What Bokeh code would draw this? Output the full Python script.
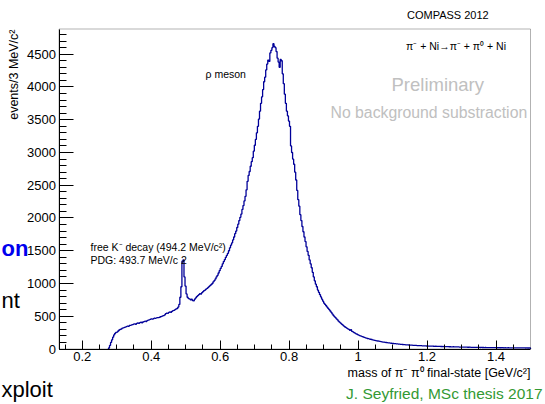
import numpy as np
from bokeh.plotting import figure
from bokeh.models import (Label, Range1d, SingleIntervalTicker, CustomJSTickFormatter,
                          BoxAnnotation)
from bokeh.embed import file_html
from bokeh.resources import INLINE

# ---------------- data (3 MeV bins) ----------------
bin_start = 0.276
bin_width = 0.003

counts_threshold = [15, 55, 100, 140, 180, 215, 240, 255]
counts_low = [258, 275, 290, 300, 305, 318, 322, 330, 335, 342,
              350, 345, 360, 362, 368, 372, 380, 385, 378, 392,
              398, 390, 402, 410, 400, 412, 418, 425, 420, 432,
              440, 445, 452, 460, 455, 462, 470, 468, 475, 480,
              478, 485, 492, 498, 505, 510, 520, 540, 548, 545,
              558, 565, 560, 575, 585, 590, 600, 612, 618, 640]
counts_kaon = [680, 790, 950, 1340, 1360, 1100, 960, 840, 790, 770,
               765, 750, 760, 740, 735, 760, 780]
counts_rise = [800, 815, 830, 845, 838, 860, 875, 890, 900, 915,
               925, 940, 955, 970, 985, 1000, 1025, 1045, 1070, 1100,
               1125, 1160, 1195, 1230]
counts_rho_rise = [1260, 1300, 1335, 1365, 1400, 1430, 1460, 1500, 1545, 1585,
                   1620, 1665, 1710, 1760, 1800, 1855, 1905, 1960, 2010, 2060,
                   2130, 2190, 2260, 2330, 2430, 2560, 2650, 2710, 2790, 2860,
                   2920, 3020, 3110, 3200, 3300, 3400, 3510, 3630, 3750, 3850,
                   3960, 4080, 4150, 4260, 4350, 4410, 4390, 4520, 4560, 4600]
counts_rho_fall = [4660, 4620, 4600, 4540, 4440, 4380, 4300, 4420, 4400, 4200,
                   4050, 3890, 3750, 3630, 3560, 3480, 3400, 3100, 3000, 2900,
                   2820, 2700, 2580, 2420, 2280, 2180, 2050, 1960, 1870, 1790,
                   1710, 1640, 1560, 1490, 1430, 1360, 1300, 1240, 1170, 1100,
                   1040, 990, 950, 900, 865, 830, 795, 760, 730, 700]
counts_tail_near = [680, 660, 640, 620, 600, 580, 560, 535, 515, 495,
                    480, 460, 445, 425, 410, 395, 380, 368, 352, 340,
                    330, 318, 308, 300, 285, 295, 270, 262, 250, 242,
                    232, 225, 215]
counts_tail_far = [208, 200, 196, 188, 183, 178, 170, 166, 160, 158,
                   152, 149, 145, 140, 137, 132, 129, 125, 122, 119,
                   115, 113, 110, 106, 105, 101, 99, 96, 94, 92,
                   90, 88, 87, 84, 82, 81, 78, 77, 75, 74,
                   72, 71, 69, 67, 67, 64, 63, 62, 61, 60,
                   58, 58, 56, 56, 55, 54, 53, 53, 51, 50,
                   50, 49, 48, 48, 47, 46, 47, 45, 45, 44,
                   43, 43, 42, 41, 42, 40, 40, 39, 39, 38,
                   38, 37, 38, 36, 36, 35, 36, 34, 34, 33,
                   33, 34, 32, 32, 31, 32, 31, 30, 30, 30,
                   29, 30, 28, 28, 29, 27, 27, 28, 26, 26,
                   26, 25, 26, 25, 24, 25, 24, 23, 24, 23,
                   23, 22, 23, 22, 22, 21, 22, 21, 21, 20,
                   20, 21, 20, 20, 19, 20, 19, 19, 20, 19,
                   18, 19, 18, 18, 19, 18, 17, 18, 17, 17,
                   17, 18, 17, 16, 17, 16, 16, 17, 16, 16,
                   16, 15, 16, 15, 15, 16]

x_axis_limits = (0.1325, 1.5)
y_axis_limits = (0.0, 4885.0)
x_ticks_interval = 0.2
y_ticks_interval = 500

# ---------------- build step outline ----------------
counts = np.array(counts_threshold + counts_low + counts_kaon + counts_rise +
                  counts_rho_rise + counts_rho_fall + counts_tail_near +
                  counts_tail_far, dtype=float)
edges = bin_start + bin_width * np.arange(len(counts) + 1)
xs = np.repeat(edges, 2)
ys = np.concatenate([[0.0], np.repeat(counts, 2), [0.0]])

# ---------------- geometry: the drawing box inside the full canvas ----------------
W, H = 545, 404
FL, FR, FT, FB = 58.5, 530.0, 28.5, 348.5   # pixel edges of the histogram box
X0, X1 = x_axis_limits
Y0, Y1 = y_axis_limits
sx = (FR - FL) / (X1 - X0)
sy = (FB - FT) / (Y1 - Y0)
xr = Range1d(X0 - FL / sx, X1 + (W - FR) / sx)
yr = Range1d(Y0 - (H - FB) / sy, Y1 + FT / sy)

p = figure(width=W, height=H, x_range=xr, y_range=yr,
           output_backend="svg", toolbar_location=None,
           min_border_left=0, min_border_right=0, min_border_top=0,
           min_border_bottom=0)
p.title.visible = False
p.background_fill_color = "white"
p.border_fill_color = "white"
p.outline_line_color = None
p.xgrid.visible = False
p.ygrid.visible = False

# box (top and right borders of the ROOT frame)
p.add_layout(BoxAnnotation(left=X0, right=X1, bottom=Y0, top=Y1,
                           fill_alpha=0, line_color="black", line_width=1))

p.line(xs, ys, line_color="#000099", line_width=1.3)

FONT = "Liberation Sans"

xa = p.xaxis[0]
xa.fixed_location = Y0
xa.bounds = (X0, X1)
xa.ticker = SingleIntervalTicker(interval=x_ticks_interval, num_minor_ticks=4)
xa.formatter = CustomJSTickFormatter(code="return String(Math.round(tick*10)/10);")
xa.major_tick_in = 9
xa.major_tick_out = 0
xa.minor_tick_in = 5
xa.minor_tick_out = 0
xa.major_label_standoff = 3
xa.major_label_text_font = FONT
xa.major_label_text_font_size = "13px"
xa.major_label_text_color = "black"
xa.axis_line_color = "black"

ya = p.yaxis[0]
ya.fixed_location = X0
ya.bounds = (Y0, Y1)
ya.ticker = SingleIntervalTicker(interval=y_ticks_interval, num_minor_ticks=5)
ya.major_tick_in = 14
ya.major_tick_out = 0
ya.minor_tick_in = 7
ya.minor_tick_out = 0
ya.major_label_standoff = 3
ya.major_label_text_font = FONT
ya.major_label_text_font_size = "13px"
ya.major_label_text_color = "black"
ya.axis_line_color = "black"


def add_text(text, cx, cy, size, color="black", align="left", bold=False, angle=0.0):
    p.add_layout(Label(x=cx, y=cy, x_units="canvas", y_units="canvas",
                       text=text, text_font=FONT,
                       text_font_size=f"{size}px", text_color=color,
                       text_align=align, text_baseline="middle",
                       text_font_style="bold" if bold else "normal",
                       angle=angle))


add_text("COMPASS 2012", 406.5, 14, 11)
add_text("\u03c0\u207b + Ni\u2192\u03c0\u207b + \u03c0\u2070 + Ni", 405.5, 45, 10.5)
add_text("Preliminary", 391, 84, 18.5, color="#c0c0c0")
add_text("No background substraction", 330, 112, 15.8, color="#c0c0c0")
add_text("\u03c1 meson", 205, 73, 10.5)
add_text("free K\u207b decay (494.2 MeV/c\u00b2)", 90, 246.5, 10.5)
add_text("PDG: 493.7 MeV/c 2", 90, 259, 10.5)
add_text("mass of \u03c0\u207b \u03c0\u2070 final-state [GeV/c\u00b2]", 530, 372, 12.5, align="right")
add_text("J. Seyfried, MSc thesis 2017", 542, 393, 15.5, color="#339933", align="right")
add_text("events/3 MeV/c\u00b2", 13.5, 29, 12.5, align="right", angle=np.pi / 2)
add_text("on", 1, 248, 22, color="#0000ee", align="left", bold=True)
add_text("nt", 1, 300, 22, align="left")
add_text("xploit", 1, 389, 22, align="left")

open("out.html", "w").write(file_html(p, INLINE))
